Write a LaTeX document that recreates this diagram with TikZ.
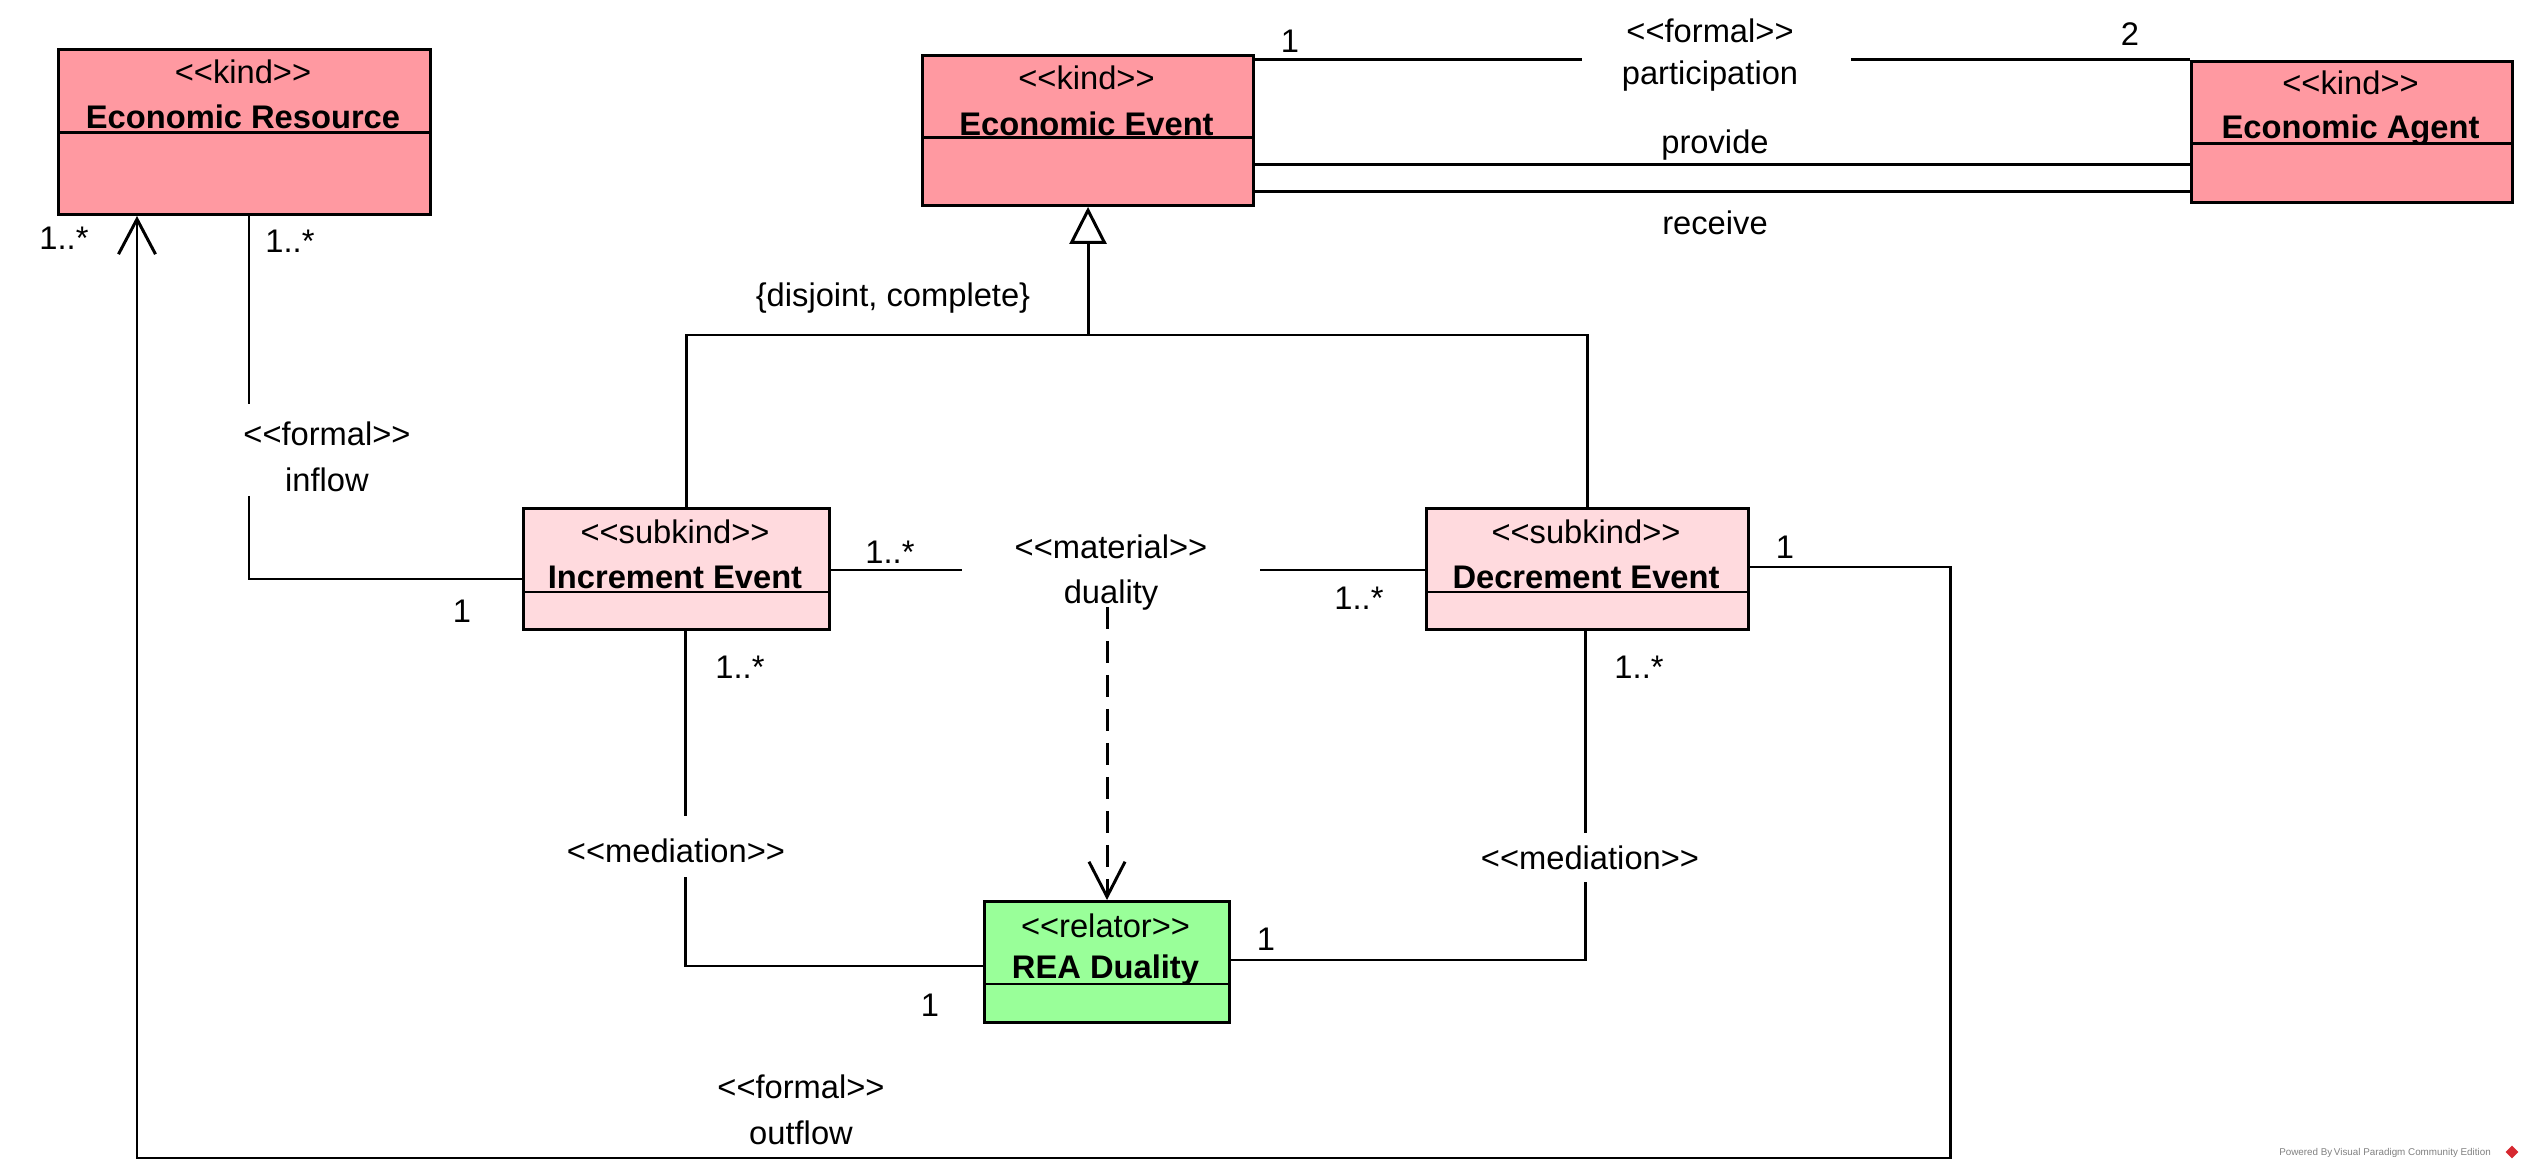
\documentclass[tikz,border=0pt]{standalone}
\usepackage{fontspec}
\setmainfont{Liberation Sans}[Ligatures=TeXOff]
\usepackage{xcolor}
\usepackage{tikz}
\usetikzlibrary{arrows.meta}

\definecolor{kindred}{RGB}{255,153,161}
\definecolor{subkindpink}{RGB}{255,218,222}
\definecolor{relatorgreen}{RGB}{153,255,153}
\definecolor{logored}{RGB}{214,40,48}

\tikzset{
  classbox/.style={draw, line width=0.85pt, rectangle, anchor=north west, inner sep=0pt},
  stereo/.style={font=\fontsize{9.3pt}{11pt}\selectfont, inner sep=0pt},
  cname/.style={font=\fontsize{9.3pt}{11pt}\selectfont\bfseries, inner sep=0pt},
  lbl/.style={font=\fontsize{9.3pt}{11pt}\selectfont, inner sep=0pt},
  assoc/.style={line width=0.85pt},
  dep/.style={line width=0.85pt, dash pattern=on 0.22cm off 0.12cm, -{Straight Barb[length=0.35cm, width=0.36cm]}},
}

\begin{document}
\begin{tikzpicture}
    \useasboundingbox (0,0) rectangle (25.23,-11.70);

    \node[classbox, fill=kindred, minimum width=3.72cm, minimum height=1.65cm] (res) at (0.57,-0.48) {};
    \draw[assoc] (res.west |- 0,-1.33) -- (res.east |- 0,-1.33);
    \node[stereo] (resk) at (2.43,-0.72) {<<kind>>};
    \node[cname] (resn) at (2.43,-1.17) {Economic Resource};

    \node[classbox, fill=kindred, minimum width=3.31cm, minimum height=1.50cm] (ee) at (9.21,-0.54) {};
    \draw[assoc] (ee.west |- 0,-1.38) -- (ee.east |- 0,-1.38);
    \node[stereo] (eek) at (10.865,-0.78) {<<kind>>};
    \node[cname] (een) at (10.865,-1.24) {Economic Event};

    \node[classbox, fill=kindred, minimum width=3.21cm, minimum height=1.41cm] (ea) at (21.90,-0.60) {};
    \draw[assoc] (ea.west |- 0,-1.44) -- (ea.east |- 0,-1.44);
    \node[stereo] (eak) at (23.505,-0.83) {<<kind>>};
    \node[cname] (ean) at (23.505,-1.30) {Economic Agent};

    \node[classbox, fill=subkindpink, minimum width=3.06cm, minimum height=1.21cm] (inc) at (5.22,-5.07) {};
    \draw[assoc] (inc.west |- 0,-5.92) -- (inc.east |- 0,-5.92);
    \node[stereo] (inck) at (6.75,-5.32) {<<subkind>>};
    \node[cname] (incn) at (6.75,-5.77) {Increment Event};

    \node[classbox, fill=subkindpink, minimum width=3.22cm, minimum height=1.21cm] (dec) at (14.25,-5.07) {};
    \draw[assoc] (dec.west |- 0,-5.92) -- (dec.east |- 0,-5.92);
    \node[stereo] (deck) at (15.86,-5.32) {<<subkind>>};
    \node[cname] (decn) at (15.86,-5.77) {Decrement Event};

    \node[classbox, fill=relatorgreen, minimum width=2.45cm, minimum height=1.21cm] (rea) at (9.83,-9.00) {};
    \draw[assoc] (rea.west |- 0,-9.84) -- (rea.east |- 0,-9.84);
    \node[stereo] (reak) at (11.055,-9.26) {<<relator>>};
    \node[cname] (rean) at (11.055,-9.70) {REA Duality};

    \coordinate (partl) at (15.82,-0.60);
    \coordinate (partr) at (18.51,-0.60);
    \draw[assoc] (partl -| ee.east) -- (partl);
    \draw[assoc] (partr) -- (partr -| ea.west);
    \node[lbl] (partone) at (12.90,-0.41) {1};
    \node[lbl] (parttwo) at (21.30,-0.34) {2};
    \node[lbl] (partst) at (17.10,-0.31) {<<formal>>};
    \node[lbl] (partname) at (17.10,-0.76) {participation};

    \coordinate (provide) at (17.15,-1.65);
    \coordinate (receive) at (17.15,-1.92);
    \draw[assoc] (provide -| ee.east) -- (provide -| ea.west);
    \draw[assoc] (receive -| ee.east) -- (receive -| ea.west);
    \node[lbl] (providel) at (17.15,-1.45) {provide};
    \node[lbl] (receivel) at (17.15,-2.23) {receive};

    \coordinate (genjoin) at (10.88,-3.35);
    \draw[assoc] ([xshift=1mm]inc.north) |- (genjoin) -| (dec.north);
    \draw[assoc, -{Triangle[open, length=0.37cm, width=0.37cm]}] (genjoin) -- (genjoin |- ee.south);
    \node[lbl] (genset) at (8.93,-2.98) {\{disjoint, complete\}};

    \coordinate (inflowtop) at (2.49,-4.04);
    \coordinate (inflowbot) at (2.49,-4.96);
    \coordinate (inflowbend) at (2.49,-5.79);
    \draw[assoc] (inflowtop |- res.south) -- (inflowtop);
    \draw[assoc] (inflowbot) -- (inflowbend) -- (inflowbend -| inc.west);
    \node[lbl] (inflowst) at (3.27,-4.34) {<<formal>>};
    \node[lbl] (inflowname) at (3.27,-4.80) {inflow};
    \node[lbl] (inflowres) at (2.90,-2.41) {1..*};
    \node[lbl] (inflowinc) at (4.62,-6.11) {1};

    \coordinate (dualityl) at (9.62,-5.70);
    \coordinate (dualityr) at (12.60,-5.70);
    \draw[assoc] (dualityl -| inc.east) -- (dualityl);
    \draw[assoc] (dualityr) -- (dualityr -| dec.west);
    \node[lbl] (dualityst) at (11.11,-5.47) {<<material>>};
    \node[lbl] (dualityname) at (11.11,-5.95) {duality};
    \node[lbl] (dualityinc) at (8.90,-5.52) {1..*};
    \node[lbl] (dualitydec) at (13.59,-5.98) {1..*};
    \coordinate (dualitydep) at (11.07,-6.07);
    \draw[dep] (dualitydep) -- (dualitydep |- rea.north);

    \coordinate (incmedtop) at (6.85,-8.16);
    \coordinate (incmedbot) at (6.85,-8.77);
    \coordinate (incmedbend) at (6.85,-9.66);
    \draw[assoc] (incmedtop |- inc.south) -- (incmedtop);
    \draw[assoc] (incmedbot) -- (incmedbend) -- (incmedbend -| rea.west);
    \node[lbl] (incmedst) at (6.76,-8.51) {<<mediation>>};
    \node[lbl] (incmedinc) at (7.40,-6.67) {1..*};
    \node[lbl] (incmedrea) at (9.30,-10.05) {1};

    \coordinate (decmedtop) at (15.85,-8.33);
    \coordinate (decmedbot) at (15.85,-8.82);
    \coordinate (decmedbend) at (15.85,-9.60);
    \draw[assoc] (decmedtop |- dec.south) -- (decmedtop);
    \draw[assoc] (decmedbot) -- (decmedbend) -- (decmedbend -| rea.east);
    \node[lbl] (decmedst) at (15.90,-8.58) {<<mediation>>};
    \node[lbl] (decmeddec) at (16.39,-6.67) {1..*};
    \node[lbl] (decmedrea) at (12.66,-9.39) {1};

    \coordinate (outflowa) at (19.50,-5.67);
    \coordinate (outflowb) at (19.50,-11.58);
    \coordinate (outflowc) at (1.37,-11.58);
    \draw[assoc, -{Straight Barb[length=0.35cm, width=0.37cm]}] (outflowa -| dec.east) -- (outflowa) -- (outflowb) -- (outflowc) -- (outflowc |- res.south);
    \node[lbl] (outflowst) at (8.01,-10.87) {<<formal>>};
    \node[lbl] (outflowname) at (8.01,-11.33) {outflow};
    \node[lbl] (outflowdec) at (17.85,-5.47) {1};
    \node[lbl] (outflowres) at (0.64,-2.38) {1..*};

    \node[font=\fontsize{2.8pt}{3.4pt}\selectfont, text=gray, inner sep=0pt] (powered) at (23.85,-11.53) {Powered By\,Visual Paradigm Community Edition};
    \node[fill=logored, rotate=45, minimum size=0.09cm, inner sep=0pt] (vplogo) at (25.12,-11.52) {};
\end{tikzpicture}
\end{document}
